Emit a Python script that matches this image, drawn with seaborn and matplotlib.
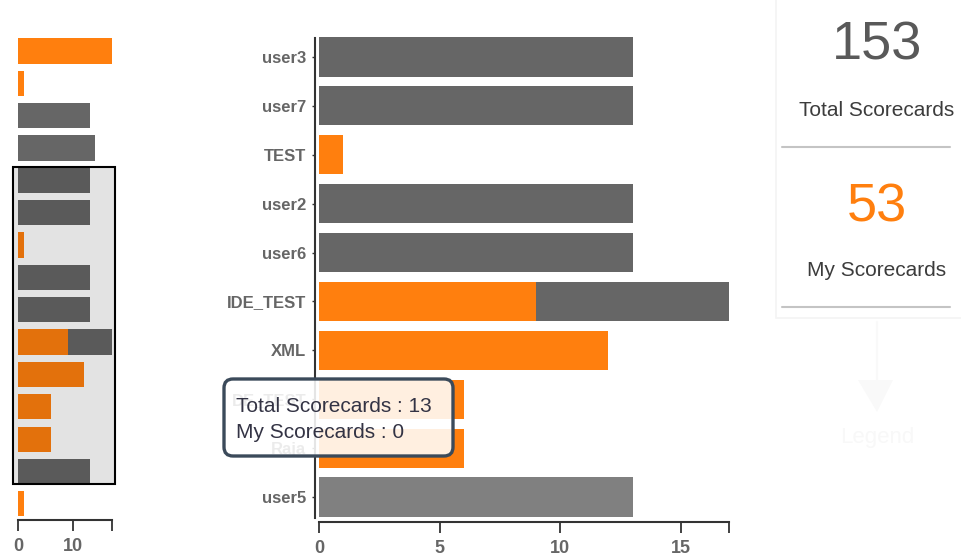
import numpy as np
import pandas as pd
import matplotlib
matplotlib.use("Agg")
import matplotlib.pyplot as plt
from matplotlib.patches import Rectangle, FancyBboxPatch, Polygon
import seaborn as sns

sns.set_style("white")
plt.rcParams['font.family'] = ['Liberation Sans', 'DejaVu Sans']

# scorecards per owner (orange = mine, grey = total)
names = ["admin", "demo", "user1", "user4", "user3", "user7", "TEST", "user2",
         "user6", "IDE_TEST", "XML", "DE_TEST", "Raja", "user5", "user8"]
total = [17, 1, 13, 14, 13, 13, 1, 13, 13, 17, 12, 6, 6, 13, 1]
mine = [17, 1, 0, 0, 0, 0, 1, 0, 0, 9, 12, 6, 6, 0, 1]
brush = (4, 14)          # brushed slice shown in the focus chart
hovered = "user5"

GREY = "#666666"
ORANGE = "#ff7f0e"

df = pd.DataFrame({"name": names, "total": total, "mine": mine})
focus = df.iloc[brush[0]:brush[1]].reset_index(drop=True)

W, H = 961, 556
fig = plt.figure(figsize=(W / 100, H / 100), dpi=100)

# ---- focus chart
ax = fig.add_axes([319 / W, (H - 521.5) / H, 410 / W, 489 / H])
pal = {n: ("#808080" if n == hovered else GREY) for n in focus["name"]}
sns.barplot(data=focus, x="total", y="name", hue="name", palette=pal, orient="h",
            width=0.8, saturation=1, linewidth=0, legend=False, ax=ax)
sns.barplot(data=focus, x="mine", y="name", color=ORANGE, orient="h",
            width=0.8, saturation=1, linewidth=0, ax=ax)
ax.set_xlim(0, 17)
ax.set_ylim(len(focus) - 0.5, -0.5)
ax.set_xlabel("")
ax.set_ylabel("")
ax.set_xticks([0, 5, 10, 15, 17])
ax.set_xticklabels(["0", "5", "10", "15", ""])
for s in ["top", "right"]:
    ax.spines[s].set_visible(False)
for s in ["left", "bottom"]:
    ax.spines[s].set_color("#333333")
    ax.spines[s].set_linewidth(1.5)
ax.spines["left"].set_position(("outward", 3))
ax.spines["left"].set_bounds(-0.39, len(focus) - 0.57)
ax.tick_params(axis="x", bottom=True, length=8, width=1.3, color="#333333", pad=5,
               labelsize=13, labelcolor="#666666")
ax.tick_params(axis="y", left=True, length=2, width=1, color="#333333", pad=4,
               labelsize=12, labelcolor="#666666")
for lbl in ax.get_xticklabels() + ax.get_yticklabels():
    lbl.set_fontweight("bold")

# ---- overview (context) chart
ax2 = fig.add_axes([18.3 / W, (H - 520) / H, 93.5 / W, 485.2 / H])
sns.barplot(data=df, x="total", y="name", color=GREY, orient="h",
            width=0.78, saturation=1, linewidth=0, ax=ax2)
sns.barplot(data=df, x="mine", y="name", color=ORANGE, orient="h",
            width=0.78, saturation=1, linewidth=0, ax=ax2)
ax2.set_xlim(0, 17)
ax2.set_ylim(len(df) - 0.5, -0.5)
ax2.set_xlabel("")
ax2.set_ylabel("")
ax2.set_yticks([])
ax2.set_xticks([0, 10, 17])
ax2.set_xticklabels(["0", "10", ""])
for s in ["top", "right", "left"]:
    ax2.spines[s].set_visible(False)
ax2.spines["bottom"].set_color("#333333")
ax2.spines["bottom"].set_linewidth(1.5)
ax2.tick_params(axis="x", bottom=True, length=8, width=1.3, color="#333333", pad=5,
                labelsize=13, labelcolor="#666666")
for lbl in ax2.get_xticklabels():
    lbl.set_fontweight("bold")
ax2.add_patch(Rectangle((-1.05, brush[0] - 0.4), 18.7, brush[1] - brush[0] - 0.2,
                        facecolor=(0, 0, 0, 0.11), edgecolor="black", lw=1.5,
                        clip_on=False, zorder=5))

# ---- overlay in pixel coordinates for panel + tooltip
ov = fig.add_axes([0, 0, 1, 1], zorder=10)
ov.set_xlim(0, W)
ov.set_ylim(H, 0)
ov.axis("off")
ov.patch.set_alpha(0)

ov.add_patch(Rectangle((776, -2), 190, 320, facecolor="none", edgecolor="#f4f4f4", lw=1.2))
ov.text(877, 46, str(sum(total)), fontsize=39, color="#595959", ha="center", va="center")
ov.text(877, 111, "Total Scorecards", fontsize=15, color="#3c3c3c", ha="center", va="center")
ov.plot([782, 950], [147, 147], color="#c4c4c4", lw=1.5)
ov.text(877, 207, str(sum(mine)), fontsize=39, color=ORANGE, ha="center", va="center")
ov.text(877, 271, "My Scorecards", fontsize=15, color="#3c3c3c", ha="center", va="center")
ov.plot([782, 950], [307, 307], color="#c4c4c4", lw=1.5)

# faint legend toggle
ov.plot([877, 877], [322, 382], color="#f9f9f9", lw=1.5)
ov.add_patch(Polygon([[858, 380], [893, 380], [877, 412]], closed=True,
                     facecolor="#f9f9f9", edgecolor="none"))
ov.text(877, 437, "Legend", fontsize=16, color="#f8f8f8", ha="center", va="center")

# tooltip for hovered bar
row = df[df["name"] == hovered].iloc[0]
ov.add_patch(FancyBboxPatch((224, 379), 229, 77,
                            boxstyle="round,pad=0,rounding_size=9",
                            facecolor=(1, 1, 1, 0.88), edgecolor="#3b4a5a", lw=2.4))
ov.text(236, 406, f"Total Scorecards : {row['total']}", fontsize=15,
        color="#333344", ha="left", va="center")
ov.text(236, 433, f"My Scorecards : {row['mine']}", fontsize=15,
        color="#333344", ha="left", va="center")

fig.savefig("out.png", dpi=100)
